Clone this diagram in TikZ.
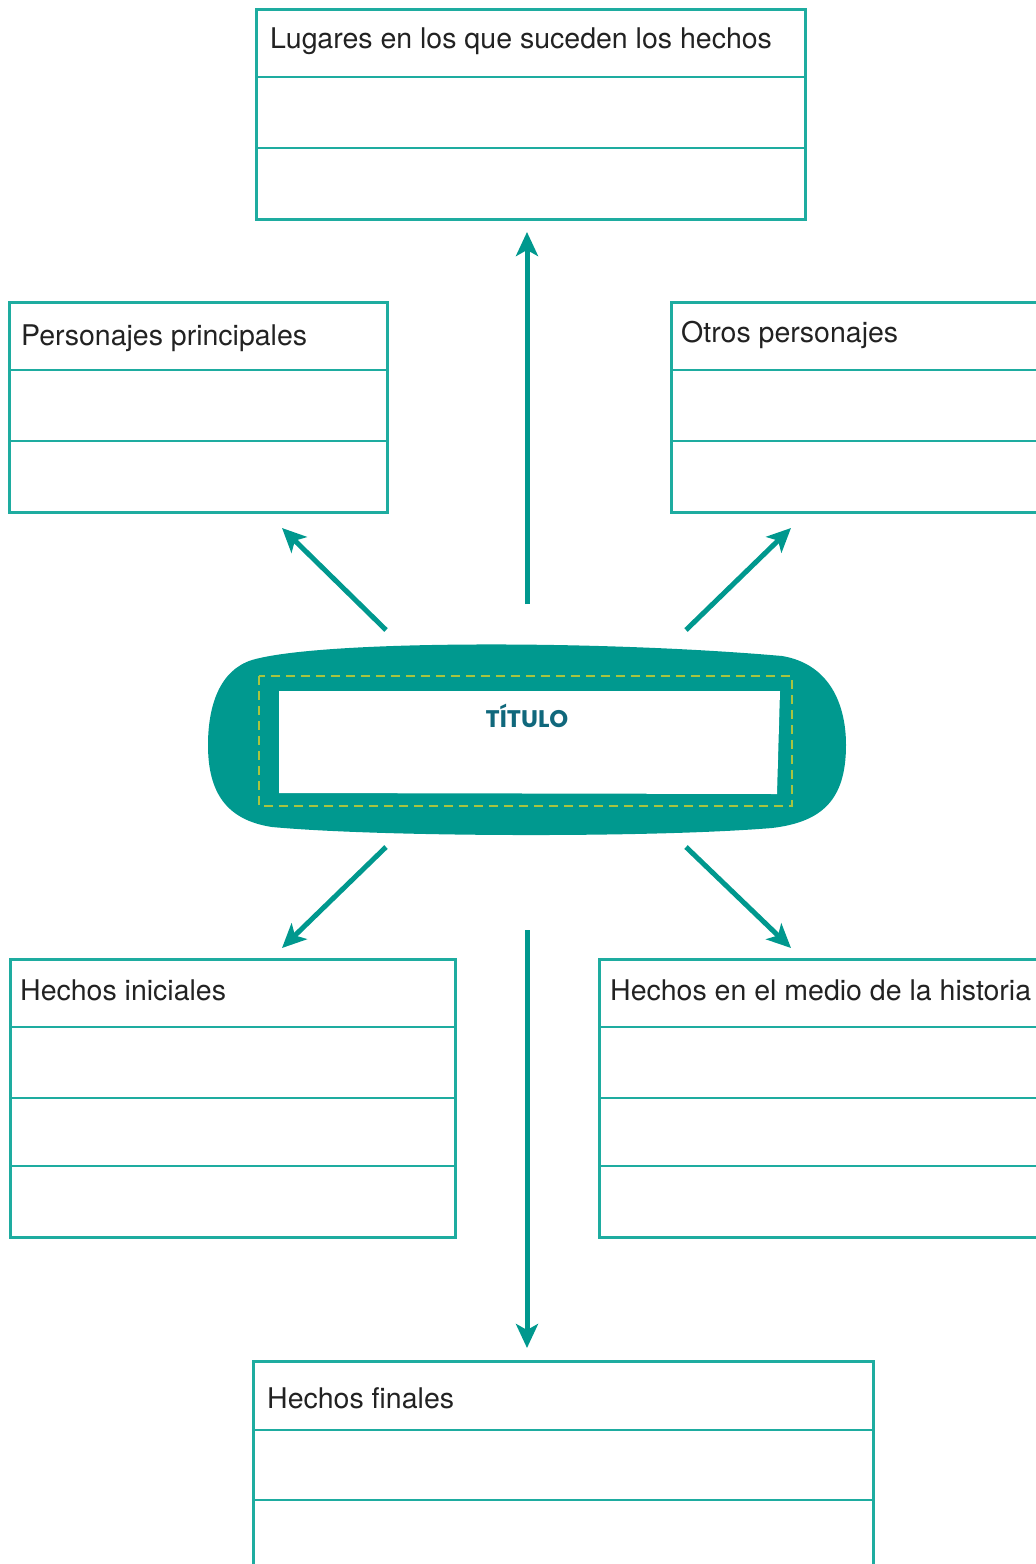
\documentclass[tikz,border=0pt]{standalone}
\usepackage{fontspec}
\setmainfont{TeX Gyre Heros}
\newfontfamily\titlefont{Poppins}[UprightFont=* Bold]
\usetikzlibrary{arrows.meta}
\definecolor{boxc}{RGB}{30,172,160}
\definecolor{arrc}{RGB}{0,152,142}
\definecolor{blobc}{RGB}{0,153,143}
\definecolor{dashc}{RGB}{168,196,64}
\definecolor{titc}{RGB}{16,104,124}
\definecolor{txtc}{RGB}{34,34,34}
\tikzset{
  frame/.style={draw=boxc, line width=2.5pt, rectangle, inner sep=0pt, anchor=north west},
  rowline/.style={draw=boxc, line width=2.5pt},
  lbl/.style={anchor=base west, inner sep=0pt, text=txtc, font=\fontsize{28.5}{34}\selectfont},
  arr/.style={draw=arrc, line width=5pt, -{Stealth[length=24pt, width=22pt, inset=6pt]}},
}
\begin{document}
\begin{tikzpicture}[x=1pt,y=-1pt]
\useasboundingbox (0,0) rectangle (1036,1564);
\clip (0,0) rectangle (1036,1564);

% Lugares
\node[frame, minimum width=549pt, minimum height=210pt] (lug) at (255,8) {};
\draw[rowline] (255,77) -- (804,77) (255,148) -- (804,148);
\node[lbl] (lugt) at (270,48) {Lugares en los que suceden los hechos};

% Personajes principales
\node[frame, minimum width=378pt, minimum height=210pt] (pp) at (8,301) {};
\draw[rowline] (8,370) -- (386,370) (8,441) -- (386,441);
\node[lbl] (ppt) at (21,345) {Personajes principales};

% Otros personajes
\node[frame, minimum width=400pt, minimum height=210pt] (op) at (670,301) {};
\draw[rowline] (670,370) -- (1070,370) (670,441) -- (1070,441);
\node[lbl] (opt) at (681,342) {Otros personajes};

% Hechos iniciales
\node[frame, minimum width=445pt, minimum height=278pt] (hi) at (9,958) {};
\draw[rowline] (9,1027) -- (454,1027) (9,1098) -- (454,1098) (9,1166) -- (454,1166);
\node[lbl] (hit) at (20,1000) {Hechos iniciales};

% Hechos en el medio
\node[frame, minimum width=460pt, minimum height=278pt] (hm) at (598,958) {};
\draw[rowline] (598,1027) -- (1070,1027) (598,1098) -- (1070,1098) (598,1166) -- (1070,1166);
\node[lbl] (hmt) at (610,1000) {Hechos en el medio de la historia};

% Hechos finales
\node[frame, minimum width=620pt, minimum height=260pt] (hf) at (252,1360) {};
\draw[rowline] (252,1430) -- (872,1430) (252,1500) -- (872,1500);
\node[lbl] (hft) at (267,1408) {Hechos finales};

% Central blob
\fill[blobc] (208,745) .. controls (208,705) and (220,670) .. (252,660)
  .. controls (320,640) and (600,640) .. (782,656)
  .. controls (830,664) and (846,705) .. (846,745)
  .. controls (846,800) and (822,822) .. (772,828)
  .. controls (650,838) and (380,837) .. (272,827)
  .. controls (226,820) and (208,792) .. (208,745) -- cycle;
\draw[dashc, line width=2.4pt, dash pattern=on 9pt off 6pt] (259,676) rectangle (792,806);
\fill[white] (279,691) -- (780,691) -- (777,794) -- (279,793) -- cycle;
\node[inner sep=0pt, text=titc, font=\titlefont\fontsize{24}{28}\selectfont] (tit) at (527,716) {TÍTULO};

% Arrow end points
\coordinate (uS) at (527,604); \coordinate (uE) at (527,232);
\coordinate (nwS) at (386,630); \coordinate (nwE) at (282,528);
\coordinate (neS) at (686,630); \coordinate (neE) at (791,528);
\coordinate (swS) at (386,847); \coordinate (swE) at (282,948);
\coordinate (seS) at (686,847); \coordinate (seE) at (791,948);
\coordinate (dS) at (527,930); \coordinate (dE) at (527,1348);

\draw[arr] (uS) -- (uE);
\draw[arr] (nwS) -- (nwE);
\draw[arr] (neS) -- (neE);
\draw[arr] (swS) -- (swE);
\draw[arr] (seS) -- (seE);
\draw[arr] (dS) -- (dE);
\end{tikzpicture}
\end{document}
